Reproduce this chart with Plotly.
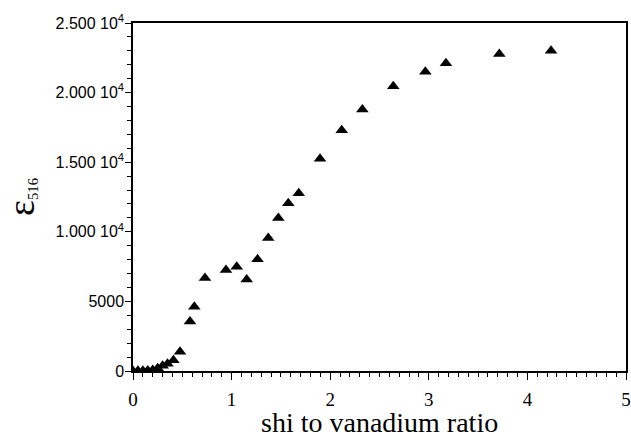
import plotly.graph_objects as go

ratio = [0.0, 0.05, 0.10, 0.15, 0.20, 0.25, 0.30, 0.35, 0.41, 0.477, 0.578, 0.622, 0.730,
         0.943, 1.052, 1.153, 1.263, 1.372, 1.474, 1.575, 1.681, 1.897, 2.117, 2.326,
         2.640, 2.965, 3.174, 3.715, 4.24]
epsilon = [0, 10, 20, 40, 80, 200, 380, 520, 780, 1390, 3550, 4610, 6680,
           7255, 7490, 6580, 8020, 9560, 11000, 12050, 12770, 15250, 17290, 18780,
           20460, 21490, 22100, 22770, 23000]

ytick_vals = [0, 5000, 10000, 15000, 20000, 25000]
ytick_text = ["0", "5000", "1.000 10<sup>4</sup>", "1.500 10<sup>4</sup>",
              "2.000 10<sup>4</sup>", "2.500 10<sup>4</sup>"]
xtick_vals = [0, 1, 2, 3, 4, 5]

fig = go.Figure()
fig.add_trace(go.Scatter(
    x=ratio, y=epsilon, mode="markers",
    marker=dict(symbol="triangle-up", size=11, color="black"),
    showlegend=False,
))

fig.update_layout(
    width=631, height=435,
    margin=dict(l=133, r=5, t=23, b=64),
    plot_bgcolor="white", paper_bgcolor="white",
    font=dict(family="Liberation Serif", color="black"),
    xaxis=dict(
        range=[0, 5], tickvals=xtick_vals, ticktext=[str(v) for v in xtick_vals],
        automargin=False, ticklabeloverflow="allow", ticklabelstandoff=3,
        showgrid=False, zeroline=False, showline=True, linecolor="black", linewidth=1.5,
        mirror=True, ticks="outside", ticklen=7, tickwidth=1, tickcolor="black",
        minor=dict(dtick=0.1, ticks="outside", ticklen=4, tickcolor="black", showgrid=False),
        tickfont=dict(family="Liberation Serif", size=19),
    ),
    yaxis=dict(
        range=[0, 25000], tickvals=ytick_vals, ticktext=ytick_text,
        automargin=False, ticklabelstandoff=-2,
        showgrid=False, zeroline=False, showline=True, linecolor="black", linewidth=1.5,
        mirror=True, ticks="outside", ticklen=6, tickwidth=1, tickcolor="black",
        minor=dict(dtick=1000, ticks="outside", ticklen=4, tickcolor="black", showgrid=False),
        tickfont=dict(family="Liberation Sans", size=16),
    ),
    annotations=[
        dict(
            text="shi to vanadium ratio", xref="paper", yref="paper", x=0.5, y=0,
            xanchor="center", yanchor="middle", yshift=-51, showarrow=False,
            font=dict(family="Liberation Serif", size=28, color="black"),
        ),
        dict(
            text="<span style='font-size:38px'>ε</span><sub>516</sub>",
            xref="paper", yref="paper", x=0, y=0.5, xanchor="center", yanchor="middle",
            xshift=-112, textangle=-90, showarrow=False,
            font=dict(family="Liberation Serif", size=21, color="black"),
        ),
    ],
)

# remove the page's default body margin so the figure fills the window exactly
fig.write_html(
    "out.html",
    config={"displayModeBar": False},
    post_script="document.body.style.margin='0';document.body.style.overflow='hidden';",
)
